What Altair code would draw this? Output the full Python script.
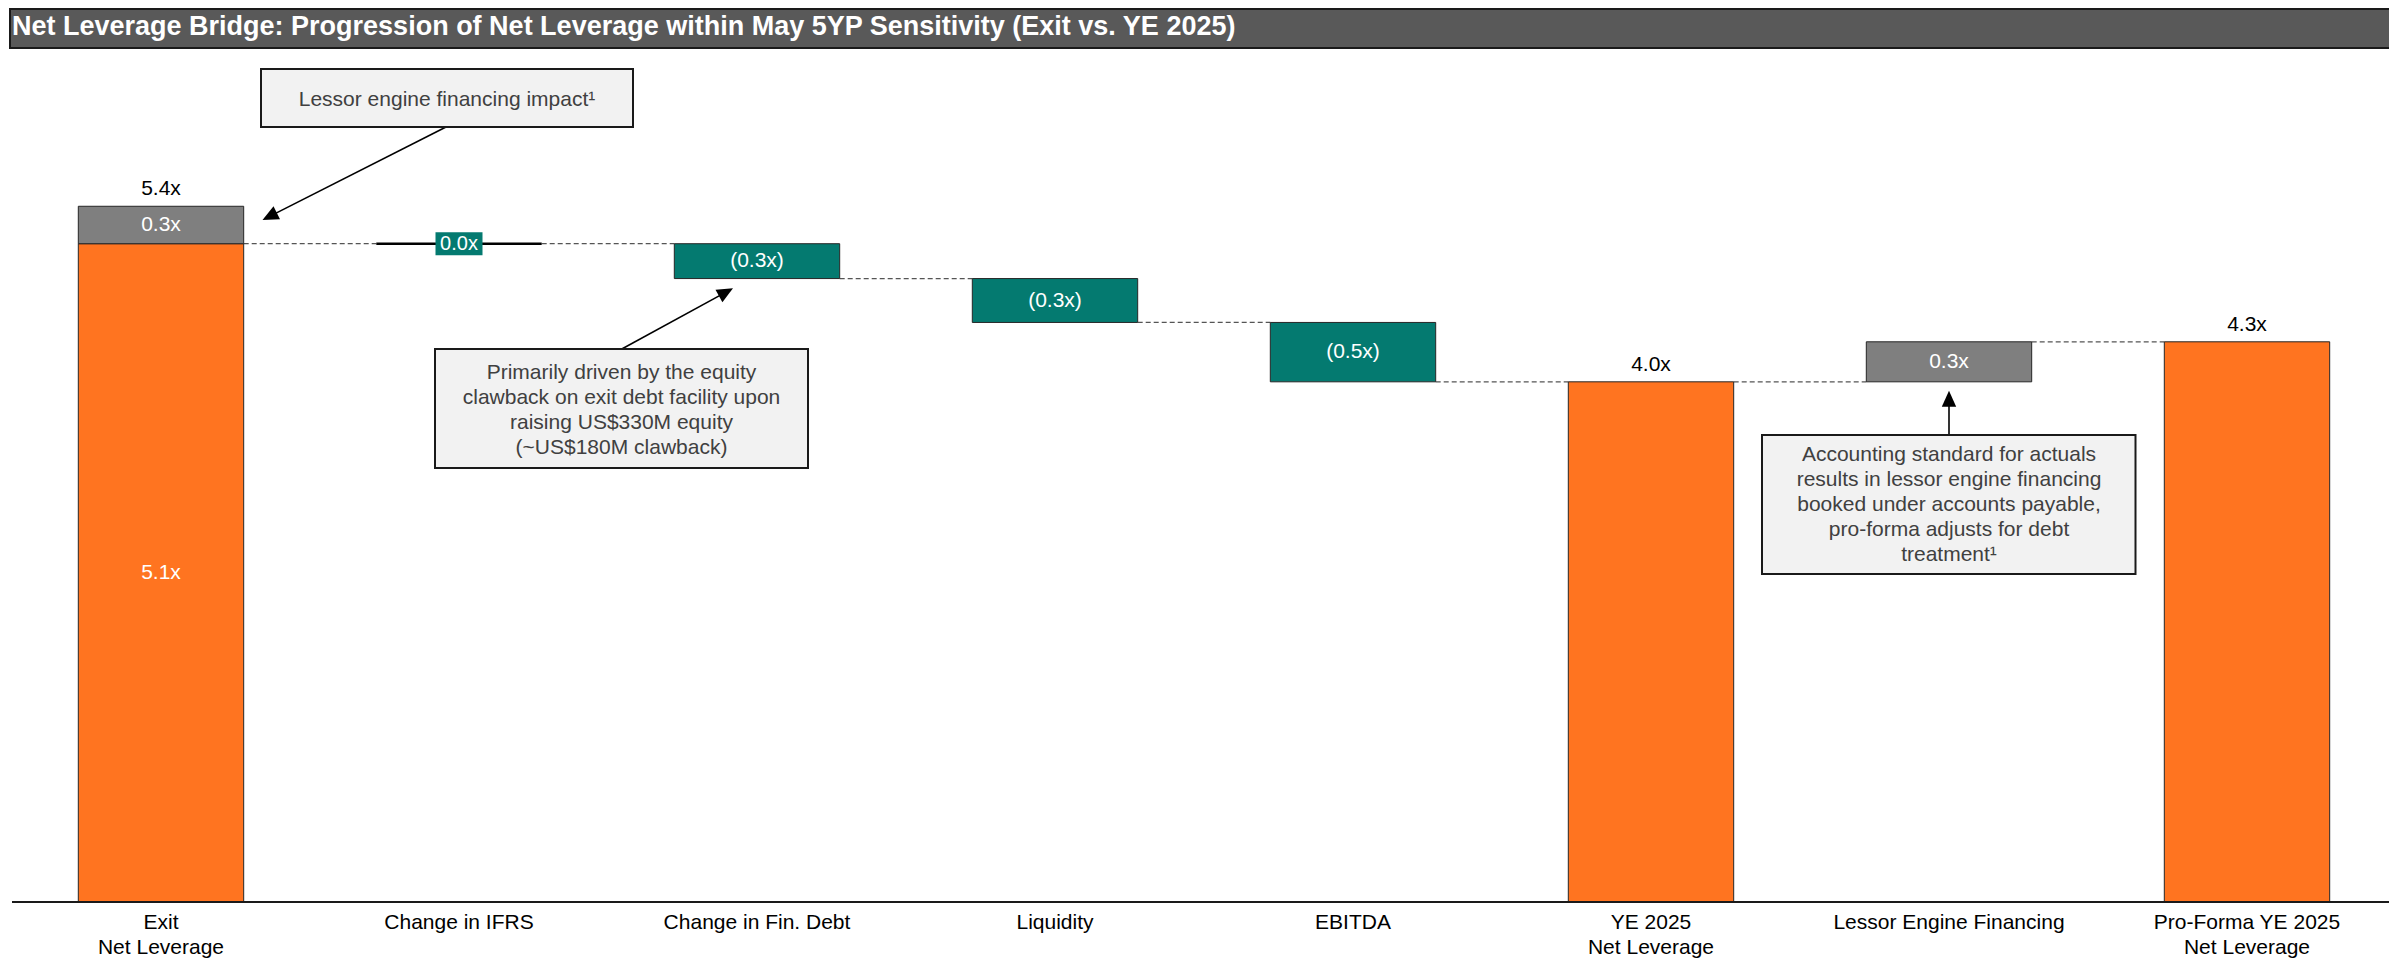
import math
import altair as alt
import pandas as pd

FONT = "Liberation Sans"

# ---------------- data ----------------
CATEGORIES = [
    "Exit\nNet Leverage",
    "Change in IFRS",
    "Change in Fin. Debt",
    "Liquidity",
    "EBITDA",
    "YE 2025\nNet Leverage",
    "Lessor Engine Financing",
    "Pro-Forma YE 2025\nNet Leverage",
]

# bar segments (category index, start, end, kind, inside label)
SEG_CAT = [0, 0, 2, 3, 4, 5, 6, 7]
SEG_START = [0.0, 5.10, 5.10, 4.83, 4.49, 0.0, 4.03, 0.0]
SEG_END = [5.10, 5.39, 4.83, 4.49, 4.03, 4.03, 4.34, 4.34]
SEG_KIND = ["total", "lessor", "decrease", "decrease", "decrease", "total", "lessor", "total"]
SEG_LABEL = ["5.1x", "0.3x", "(0.3x)", "(0.3x)", "(0.5x)", "", "0.3x", ""]

# totals labelled above the bar
TOP_CAT = [0, 5, 7]
TOP_VALUE = [5.39, 4.03, 4.34]
TOP_TEXT = ["5.4x", "4.0x", "4.3x"]

# zero-change step
ZERO_CAT = [1]
ZERO_LEVEL = [5.10]
ZERO_TEXT = ["0.0x"]

# dashed connectors: from category index i to i+1 at level
CONN_FROM = [0, 1, 2, 3, 4, 5, 6]
CONN_LEVEL = [5.10, 5.10, 4.83, 4.49, 4.03, 4.03, 4.34]

TITLE = "Net Leverage Bridge: Progression of Net Leverage within May 5YP Sensitivity (Exit vs. YE 2025)"
NOTE_1 = "Lessor engine financing impact\u00b9"
NOTE_2 = "Primarily driven by the equity\nclawback on exit debt facility upon\nraising US$330M equity\n(~US$180M clawback)"
NOTE_3 = "Accounting standard for actuals\nresults in lessor engine financing\nbooked under accounts payable,\npro-forma adjusts for debt\ntreatment\u00b9"

# ---------------- styling ----------------
W, H = 2377, 839
STEP = 298.0          # pixels per category
PAD = {"left": 4, "top": 55, "right": 0, "bottom": 56}
Y_MAX = 6.5
HALF = 0.2775         # half bar width in category units
ORANGE = "#FF7420"
TEAL = "#047A70"
GREY = "#7F7F7F"
FS = 21

xs = alt.Scale(domain=[-0.5, -0.5 + W / STEP], nice=False, zero=False)
ys = alt.Scale(domain=[0, Y_MAX], nice=False, zero=True)

bars = pd.DataFrame({"cat": SEG_CAT, "start": SEG_START, "end": SEG_END,
                     "kind": SEG_KIND, "label": SEG_LABEL})
bars["x0"] = bars["cat"] - HALF
bars["x1"] = bars["cat"] + HALF
bars["mid"] = (bars["start"] + bars["end"]) / 2

tops = pd.DataFrame({"cat": TOP_CAT, "value": TOP_VALUE, "text": TOP_TEXT})
zero = pd.DataFrame({"cat": ZERO_CAT, "level": ZERO_LEVEL, "text": ZERO_TEXT})
zero["x0"] = zero["cat"] - HALF
zero["x1"] = zero["cat"] + HALF
conn = pd.DataFrame({"frm": CONN_FROM, "level": CONN_LEVEL})
conn["x0"] = conn["frm"] + HALF
conn["x1"] = conn["frm"] + 1 - HALF
cats = pd.DataFrame({"idx": list(range(len(CATEGORIES))), "name": CATEGORIES})

one = pd.DataFrame({"k": [0]})


def X(field):
    return alt.X(field, scale=xs, axis=None)


def Y(field):
    return alt.Y(field, scale=ys, axis=None)


layers = []

# title bar
layers.append(alt.Chart(one).mark_rect(fill="#595959", stroke="#1a1a1a", strokeWidth=2).encode(
    x=alt.value(-2), x2=alt.value(W + 6), y=alt.value(-PAD["top"] + 1), y2=alt.value(-15)))
layers.append(alt.Chart(one).mark_text(align="left", baseline="middle", fontSize=27, fontWeight="bold",
                                       color="white", font=FONT, text=TITLE).encode(
    x=alt.value(0), y=alt.value(-36)))

# connectors
layers.append(alt.Chart(conn).mark_rule(color="#555555", strokeWidth=1.3, strokeDash=[5, 3]).encode(
    x=X("x0:Q"), x2="x1:Q", y=Y("level:Q")))

# bars
layers.append(alt.Chart(bars).mark_rect(stroke="#262626", strokeWidth=1).encode(
    x=X("x0:Q"), x2="x1:Q", y=Y("start:Q"), y2="end:Q",
    color=alt.Color("kind:N", scale=alt.Scale(domain=["total", "lessor", "decrease"],
                                              range=[ORANGE, GREY, TEAL]), legend=None)))

# zero change step
layers.append(alt.Chart(zero).mark_rule(color="#000000", strokeWidth=2.5).encode(
    x=X("x0:Q"), x2="x1:Q", y=Y("level:Q")))
layers.append(alt.Chart(zero).mark_rect(color=TEAL, xOffset=-23.5, x2Offset=23.5,
                                        yOffset=-11.5, y2Offset=11.5).encode(
    x=X("cat:Q"), x2="cat:Q", y=Y("level:Q"), y2="level:Q"))
layers.append(alt.Chart(zero).mark_text(color="white", fontSize=20, font=FONT, baseline="middle").encode(
    x=X("cat:Q"), y=Y("level:Q"), text="text:N"))

# inside labels
layers.append(alt.Chart(bars).transform_filter("datum.label != ''").mark_text(
    color="white", fontSize=FS, font=FONT, baseline="middle").encode(
    x=X("cat:Q"), y=Y("mid:Q"), text="label:N"))

# top labels
layers.append(alt.Chart(tops).mark_text(color="#000000", fontSize=FS, font=FONT, baseline="middle", dy=-17).encode(
    x=X("cat:Q"), y=Y("value:Q"), text="text:N"))

# category axis: baseline + labels
layers.append(alt.Chart(one).mark_rule(color="#1a1a1a", strokeWidth=2).encode(
    x=alt.value(0), x2=alt.value(W), y=alt.value(H)))
layers.append(alt.Chart(cats).mark_text(color="#000000", fontSize=FS, font=FONT, baseline="middle",
                                        align="center", lineBreak="\n", lineHeight=25).encode(
    x=X("idx:Q"), y=alt.value(H + 21), text="name:N"))


# annotations
def box(x0, y0, x1, y1):
    return alt.Chart(one).mark_rect(fill="#F2F2F2", stroke="#1a1a1a", strokeWidth=2).encode(
        x=alt.value(x0), x2=alt.value(x1), y=alt.value(y0), y2=alt.value(y1))


def note(text, cx, first_line_y):
    return alt.Chart(one).mark_text(align="center", baseline="middle", lineBreak="\n", lineHeight=25,
                                    fontSize=FS, font=FONT, color="#404040", text=text).encode(
        x=alt.value(cx), y=alt.value(first_line_y))


def arrow(x0, y0, xt, yt, head=16):
    dx, dy = xt - x0, yt - y0
    L = math.hypot(dx, dy)
    ux, uy = dx / L, dy / L
    cx, cy = xt - ux * head / 2, yt - uy * head / 2
    ang = math.degrees(math.atan2(ux, -uy)) % 360
    line = alt.Chart(one).mark_rule(color="#000000", strokeWidth=1.6).encode(
        x=alt.value(x0), y=alt.value(y0), x2=alt.value(cx), y2=alt.value(cy))
    tip = alt.Chart(one).mark_point(shape="M0,-1L0.9,1L-0.9,1Z", size=head * head, filled=True,
                                    color="#000000", opacity=1, strokeWidth=0, angle=ang).encode(
        x=alt.value(cx), y=alt.value(cy))
    return [line, tip]


layers += arrow(434, 64, 250.5, 157)
layers.append(box(249, 6, 621, 64))
layers.append(note(NOTE_1, 435, 37))

layers += arrow(609.8, 286, 721, 225.3)
layers.append(box(423, 286, 796, 405))
layers.append(note(NOTE_2, 609.5, 309.5))

layers += arrow(1937, 372, 1937, 327.7)
layers.append(box(1750, 372, 2123.5, 511))
layers.append(note(NOTE_3, 1937, 392))

chart = alt.layer(*layers).properties(
    width=W, height=H, padding=PAD,
    autosize=alt.AutoSizeParams(type="none"),
    background="white",
).configure(font=FONT).configure_view(strokeWidth=0)

chart.save("out.html", embed_options={"renderer": "svg", "actions": False})
